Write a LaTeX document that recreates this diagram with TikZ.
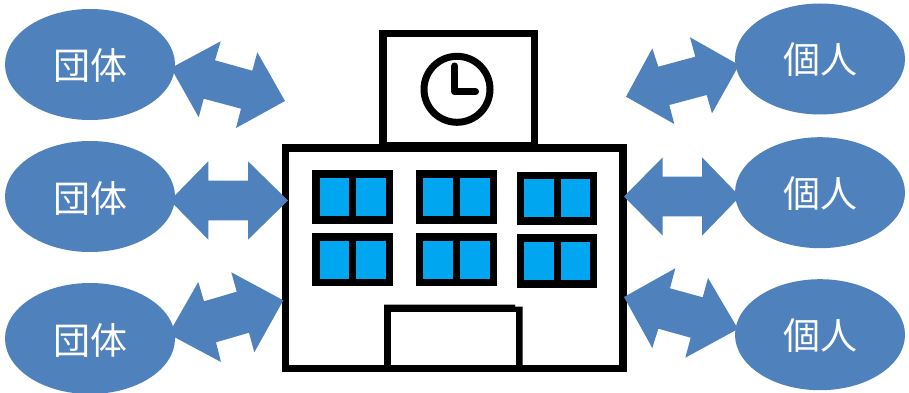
\documentclass[tikz,border=0pt]{standalone}
\usepackage{fontspec}
\newfontfamily\cjk{Noto Sans CJK JP}
\usetikzlibrary{shapes.geometric}
\definecolor{bubble}{HTML}{4F81BD}
\definecolor{pane}{HTML}{00A6F0}
\tikzset{
  bubblenode/.style={ellipse,fill=bubble,draw=none,inner sep=0pt,minimum width=170pt,minimum height=111pt},
  bubblelabel/.style={text=white,inner sep=0pt,font=\cjk\fontsize{37}{37}\selectfont},
  blockarrow/.style={fill=bubble,draw=none},
  blackfill/.style={fill=black,draw=none},
  whitefill/.style={fill=white,draw=none},
  panefill/.style={fill=pane,draw=none},
  clockline/.style={draw=black,line width=7pt,line cap=round,line join=round}
}
\begin{document}
\begin{tikzpicture}[x=1pt,y=-1pt]
\useasboundingbox (0,0) rectangle (909,393);
\fill[white] (0,0) rectangle (909,393);
% main building
\fill[blackfill] (281.7,144.3) rectangle (626.7,372.3);
\fill[whitefill] (289.3,152) rectangle (619,364.5);
% tower
\fill[blackfill] (379.3,29.7) rectangle (538.3,148);
\fill[whitefill] (386.7,37.3) rectangle (530.7,141.7);
% clock
\draw[clockline] (457,89.3) circle (33);
\draw[clockline] (454.7,66) -- (454.7,91.8) -- (475.5,91.8);
% windows
\fill[blackfill] (312.3,170.3) rectangle (393.3,224);
\fill[panefill] (319.7,177.7) rectangle (349,216);
\fill[panefill] (356.3,177.7) rectangle (385.7,216);
\fill[blackfill] (416,170.3) rectangle (496.7,224);
\fill[panefill] (423.3,177.7) rectangle (452.7,216);
\fill[panefill] (460.3,177.7) rectangle (489.7,216);
\fill[blackfill] (516.7,172) rectangle (597.3,225.3);
\fill[panefill] (524.3,179.3) rectangle (553.7,217.3);
\fill[panefill] (561,179.3) rectangle (590.3,217.3);
\fill[blackfill] (312.3,233) rectangle (393.3,286.3);
\fill[panefill] (319.7,240.7) rectangle (349,279);
\fill[panefill] (356.3,240.7) rectangle (385.7,279);
\fill[blackfill] (416,233) rectangle (496.7,286.3);
\fill[panefill] (423.3,240.7) rectangle (452.7,279);
\fill[panefill] (460.3,240.7) rectangle (489.7,279);
\fill[blackfill] (516.7,234.3) rectangle (597.3,288);
\fill[panefill] (524.3,242.3) rectangle (553.7,280.3);
\fill[panefill] (561,242.3) rectangle (590.3,280.3);
% door
\fill[blackfill] (384,304.7) -- (515,304.7) -- (515,306.7) -- (522.7,306.7) -- (522.7,366) -- (384,366) -- cycle;
\fill[whitefill] (391.3,312.3) rectangle (515.7,364.5);
% double arrows
\fill[blockarrow] (171,68) -- (220.7,41.3) -- (215,60.3) -- (252.3,70.7) -- (257.3,52.3) -- (285,101) -- (236,128) -- (241,108.7) -- (203.7,98.7) -- (198.7,117.3) -- cycle;
\fill[blockarrow] (170,200.5) -- (208.3,161.3) -- (208.3,180.7) -- (248,180.7) -- (248,161.3) -- (288,200.5) -- (248,239.7) -- (248,220.3) -- (208.3,220.3) -- (208.3,239.7) -- cycle;
\fill[blockarrow] (168.6,334) -- (198.3,282) -- (204,301.3) -- (236.7,291.7) -- (231.3,272.3) -- (283.3,300.3) -- (254.3,352.3) -- (249,332.7) -- (216,342.3) -- (221,362) -- cycle;
\fill[blockarrow] (739,65) -- (690,37.3) -- (695.3,56.7) -- (658.3,66.7) -- (652.3,48.3) -- (626,96.7) -- (674.3,124) -- (669.3,105) -- (706.7,95) -- (712,113.3) -- cycle;
\fill[blockarrow] (740,196.5) -- (702,157.3) -- (702,176.7) -- (662.7,176.7) -- (662.7,157.3) -- (624,196.5) -- (662.7,235.7) -- (662.7,216.3) -- (702,216.3) -- (702,235.7) -- cycle;
\fill[blockarrow] (624,297) -- (675.3,268.3) -- (670,288.3) -- (702.7,297.3) -- (708,278) -- (738,329) -- (685.3,357.7) -- (690.7,337.7) -- (658.3,328.7) -- (652.3,348) -- cycle;
% bubbles
\node[bubblenode] (g1) at (90,64.5) {};
\node[bubblenode] (g2) at (90,196.5) {};
\node[bubblenode] (g3) at (90,338.5) {};
\node[bubblenode] (p1) at (820,59) {};
\node[bubblenode] (p2) at (820,192.7) {};
\node[bubblenode] (p3) at (820,334.7) {};
\node[bubblelabel] (tg1) at (90.5,65.5) {団体};
\node[bubblelabel] (tg2) at (90.5,198) {団体};
\node[bubblelabel] (tg3) at (90.5,340) {団体};
\node[bubblelabel] (tp1) at (820.5,60) {個人};
\node[bubblelabel] (tp2) at (820.5,194) {個人};
\node[bubblelabel] (tp3) at (820.5,336) {個人};
\end{tikzpicture}
\end{document}
